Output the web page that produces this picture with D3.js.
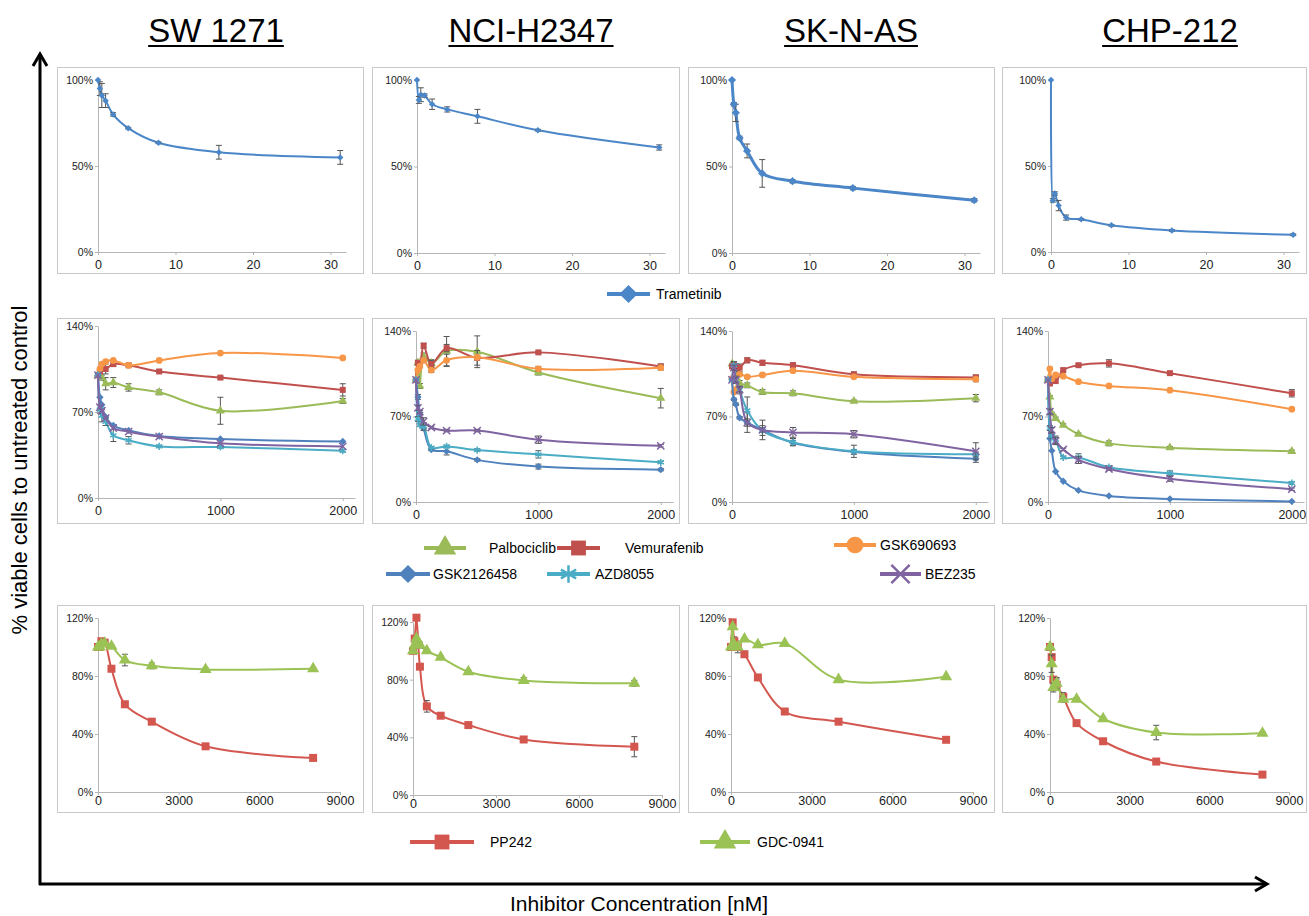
<!DOCTYPE html>
<html>
<head>
<meta charset="utf-8">
<script src="https://cdnjs.cloudflare.com/ajax/libs/d3/7.8.5/d3.min.js"></script>
<style>
  body { margin: 0; background: #fff; }
  svg { display: block; font-family: "Liberation Sans", Arial, Helvetica, sans-serif; }
</style>
</head>
<body>
<div id="chart"></div>
<script>
// ---- data ----
var cellLines = ["SW 1271", "NCI-H2347", "SK-N-AS", "CHP-212"];

// concentrations (nM)
var tramConc = [0, 0.24, 0.49, 0.98, 1.95, 3.9, 7.8, 15.6, 31.25];
var kinConc  = [0, 15.6, 31.25, 62.5, 125, 250, 500, 1000, 2000];
var ppConc   = [0, 62.5, 125, 250, 500, 1000, 2000, 4000, 8000];

// row 1: Trametinib
var tramSW  = [100, 95, 91, 88, 80, 72, 63.5, 58, 55];
var tramSWe = [0, 4, 7, 4, 1, 0.5, 0.5, 4, 4];
var tramNCI  = [100, 88.5, 91.5, 91, 86, 83, 79, 71, 61];
var tramNCIe = [0, 2, 4, 1, 3, 1.5, 4, 0.5, 1.5];
var tramSK  = [100, 86, 81, 66.5, 59, 46, 41.5, 37.5, 30.5];
var tramSKe = [0, 1, 5, 1, 4, 8, 1, 1, 1];
var tramCHP  = [100, 30, 34, 27, 20, 19, 15.5, 12.5, 10];
var tramCHPe = [0, 1, 1, 3, 1.5, 0.5, 0.5, 0.5, 0.5];

// row 2: SW 1271
var palbSW  = [100, 101, 98, 93, 94, 90, 86, 71, 79];
var palbSWe = [0, 2, 2, 5, 4, 3, 2, 11, 2];
var vemuSW  = [100, 103, 105, 105, 109, 108, 103, 98, 88];
var vemuSWe = [0, 1, 1, 4, 2, 1, 1, 1, 5];
var g69SW   = [100, 105, 109, 111, 112, 108, 112, 118, 114];
var g21SW   = [100, 82, 76, 66, 59, 55, 50.5, 48, 46];
var azdSW   = [100, 72, 67, 62, 51, 47, 42, 41.5, 38.5];
var azdSWe  = [0, 3, 5, 3, 5, 3, 1, 1, 1];
var bezSW   = [100, 74, 71, 65, 57, 54, 50, 44.5, 42];

// row 2: NCI-H2347
var palbNCI  = [100, 114, 95, 119, 113.5, 123.5, 123, 106, 85];
var palbNCIe = [0, 2, 2, 3, 3, 12, 13, 2, 8];
var vemuNCI  = [100, 114, 113, 128, 113, 126, 118, 122.5, 111];
var vemuNCIe = [0, 1, 1, 2, 3, 3, 6, 1, 2];
var g69NCI   = [100, 108, 111, 116, 108, 116, 118.5, 109, 110];
var g69NCIe  = [0, 1, 1, 1, 2, 5, 1, 2, 2];
var g21NCI   = [100, 86, 73, 60.5, 43, 41.5, 34.5, 29, 26.5];
var g21NCIe  = [0, 2, 2, 2, 1, 3, 1, 2, 1];
var azdNCI   = [100, 68, 63, 62, 44.5, 45.5, 42.5, 39, 32.5];
var azdNCIe  = [0, 2, 1, 3, 1, 1, 1, 3, 1];
var bezNCI   = [100, 77, 74, 66, 61, 58.5, 58.5, 51, 46];
var bezNCIe  = [0, 2, 1, 3, 1, 1, 1, 3, 1];

// row 2: SK-N-AS
var palbSK  = [113, 112, 108, 97.5, 95.5, 90, 89, 82.5, 85];
var palbSKe = [0, 2, 2, 2, 2, 2, 2, 1, 3];
var vemuSK  = [111, 112, 110, 110, 116, 114, 112, 104.5, 102];
var vemuSKe = [0, 2, 3, 3, 2, 2, 2, 2, 2];
var g69SK   = [101, 90, 92, 104.5, 102.5, 104, 107.5, 102.5, 100.5];
var g69SKe  = [0, 1, 1, 1, 1, 1, 1, 1, 2];
var g21SK   = [100, 84, 80, 69, 65, 59, 48.5, 41, 35.5];
var g21SKe  = [0, 1, 1, 1, 8, 2, 2, 2, 3];
var azdSK   = [100, 112, 100, 91.5, 75, 58.5, 49, 41.5, 39];
var azdSKe  = [0, 3, 3, 3, 11, 4, 3, 5, 2];
var bezSK   = [100, 110, 100, 92, 65, 59, 57, 55.5, 41.5];
var bezSKe  = [0, 2, 2, 2, 3, 8, 4, 3, 7];

// row 2: CHP-212
var palbCHP  = [100, 86, 72.5, 68.5, 63, 55.5, 48, 44.5, 41.5];
var palbCHPe = [0, 1, 1, 1, 1, 1, 2, 1, 1];
var vemuCHP  = [100, 97, 101, 99, 108, 112, 113.5, 105.5, 89];
var vemuCHPe = [0, 1, 1, 1, 1, 1, 3, 1, 3];
var g69CHP   = [100, 109, 101, 104, 103, 98.5, 95, 91.5, 76];
var g21CHP   = [100, 52, 42, 25, 17, 9.5, 5, 2.5, 0.5];
var azdCHP   = [100, 60.5, 54, 51, 36.5, 36.5, 28.5, 23.5, 15.5];
var azdCHPe  = [0, 2, 2, 3, 1, 3, 1, 2, 1];
var bezCHP   = [100, 74, 59, 50, 43, 34.5, 27, 19, 10.5];
var bezCHPe  = [0, 2, 2, 3, 1, 3, 1, 2, 1];

// row 3: PP242 / GDC-0941
var ppSW   = [100, 100, 104, 103, 85, 60.5, 48.5, 31.5, 23.5];
var gdcSW  = [100, 100, 102, 102.5, 100.5, 91, 87, 84.5, 85];
var gdcSWe = [0, 1, 1, 1, 1, 4, 2, 1, 1];
var ppNCI   = [100, 108.5, 123, 89, 61.5, 55, 48.5, 38.5, 33.5];
var ppNCIe  = [0, 2, 2, 1, 4, 1, 1, 1, 7];
var gdcNCI  = [100, 104, 108.5, 104, 100, 95.5, 85.5, 79.5, 77.5];
var gdcNCIe = [0, 1, 1, 2, 1, 1, 1, 2, 2];
var ppSK   = [100, 117, 104, 100, 95, 79, 55.5, 48.5, 36];
var ppSKe  = [0, 2, 3, 4, 2, 1, 1, 1, 1];
var gdcSK  = [100, 114, 101.5, 100, 105.5, 101.5, 102.5, 77.5, 79.5];
var ppCHP   = [100, 93, 77.5, 74, 65.5, 47.5, 35, 21, 12];
var ppCHPe  = [0, 2, 2, 4, 3, 1, 1, 1, 1];
var gdcCHP  = [100, 88.5, 72, 75, 64, 64, 50.5, 41, 40.5];
var gdcCHPe = [0, 6, 3, 4, 2, 1, 1, 5, 1];

var row1Ticks = [0, 10, 20, 30],  row1YTicks = [0, 50, 100];
var row2Ticks = [0, 1000, 2000], row2YTicks = [0, 70, 140];
var row3Ticks = [0, 3000, 6000, 9000], row3YTicks = [0, 40, 80, 120];

// drug styles
var drugs = {
  "Trametinib":  {color: "#4a86c8", sym: "diamond"},
  "Palbociclib": {color: "#9bbb59", sym: "triangle"},
  "Vemurafenib": {color: "#c0504d", sym: "square"},
  "GSK690693":   {color: "#f79646", sym: "circle"},
  "GSK2126458":  {color: "#4f81bd", sym: "diamond"},
  "AZD8055":     {color: "#4bacc6", sym: "asterisk"},
  "BEZ235":      {color: "#8064a2", sym: "x"},
  "PP242":       {color: "#d4574f", sym: "square"},
  "GDC-0941":    {color: "#9bc255", sym: "triangle"}
};

// ---- layout ----
var W = 1309, H = 916;
var boxX = [[57, 363], [372, 679], [688, 994], [1002, 1306]];
var boxY = [[67, 273], [318, 523], [605, 812]];
var axisX = [[98, 417, 732, 1051], [98, 416, 732, 1048], [98, 413, 731, 1050]];
var plotW = [[248, 248, 248, 248], [257, 257, 256, 256], [242, 249, 242, 239]];
var plotTop = [[80, 80, 80, 80], [326, 331, 331, 331], [618, 622, 618, 618]];
var plotBot = [[252, 253, 253, 252], [498, 502, 502, 502], [792, 795, 792, 792]];
var xMax = [32, 2100, 9000];
var yMax = [100, 140, 120];

var svg = d3.select("#chart").append("svg")
    .attr("width", W).attr("height", H);

function symType(name) {
  return {diamond: d3.symbolSquare, square: d3.symbolSquare, triangle: d3.symbolTriangle,
          circle: d3.symbolCircle, asterisk: d3.symbolAsterisk, x: d3.symbolX}[name];
}
function isStroke(name) { return name == "asterisk" || name == "x"; }

function drawMarker(g, name, color, size, cx, cy, sw) {
  // excel diamonds are squares turned 45 degrees
  var rot = name == "diamond" ? " rotate(45)" : "";
  var sz = name == "diamond" ? size * 0.75 : size;
  var s = g.append("path")
    .attr("d", d3.symbol().type(symType(name)).size(sz)())
    .attr("transform", "translate(" + cx + "," + cy + ")" + rot);
  if (isStroke(name)) s.attr("fill", "none").attr("stroke", color).attr("stroke-width", sw || 1.5);
  else s.attr("fill", color);
}

function drawPanel(r, c, series, xs, xTicks, yTicks, opts) {
  var g = svg.append("g");
  g.append("rect")
    .attr("x", boxX[c][0] + 0.5).attr("y", boxY[r][0] + 0.5)
    .attr("width", boxX[c][1] - boxX[c][0]).attr("height", boxY[r][1] - boxY[r][0])
    .attr("fill", "#fff").attr("stroke", "#c9c9c9");

  var x = d3.scaleLinear().domain([0, xMax[r]]).range([axisX[r][c], axisX[r][c] + plotW[r][c]]);
  var y = d3.scaleLinear().domain([0, yMax[r]]).range([plotBot[r][c], plotTop[r][c]]);

  var xa = g.append("g").attr("transform", "translate(0," + plotBot[r][c] + ")")
    .call(d3.axisBottom(x).tickValues(xTicks).tickSize(3).tickSizeOuter(0).tickFormat(d3.format("d")));
  xa.selectAll("text").attr("font-size", 12.5).attr("fill", "#222").attr("dy", r == 2 ? "0.55em" : "0.9em")
    .attr("font-family", "Liberation Sans, Arial, sans-serif");
  var ya = g.append("g").attr("transform", "translate(" + axisX[r][c] + ",0)")
    .call(d3.axisLeft(y).tickValues(yTicks).tickSize(3).tickSizeOuter(0).tickFormat(function(d) { return d + "%"; }));
  ya.selectAll("text").attr("font-size", 10.5).attr("fill", "#222").attr("x", -5)
    .attr("font-family", "Liberation Sans, Arial, sans-serif");
  g.selectAll(".domain, .tick line").attr("stroke", "#b5b5b5");

  var line = d3.line()
    .x(function(d) { return x(d[0]); })
    .y(function(d) { return y(d[1]); })
    .curve(d3.curveCatmullRom.alpha(0.5));

  series.forEach(function(s) {
    var st = drugs[s.drug];
    var pts = xs.map(function(v, i) { return [v, s.vals[i], s.err ? s.err[i] : 0]; });
    g.append("path").datum(pts).attr("d", line)
      .attr("fill", "none").attr("stroke", st.color).attr("stroke-width", opts.lw);
    // error bars
    var eb = g.append("g").attr("stroke", "#555").attr("stroke-width", 1);
    pts.forEach(function(p) {
      if (!p[2]) return;
      var px = x(p[0]), y1 = y(p[1] - p[2]), y2 = y(p[1] + p[2]);
      eb.append("line").attr("x1", px).attr("x2", px).attr("y1", y1).attr("y2", y2);
      eb.append("line").attr("x1", px - 3).attr("x2", px + 3).attr("y1", y1).attr("y2", y1);
      eb.append("line").attr("x1", px - 3).attr("x2", px + 3).attr("y1", y2).attr("y2", y2);
    });
    pts.forEach(function(p) {
      drawMarker(g, st.sym, st.color, opts.ms, x(p[0]), y(p[1]));
    });
  });
}

// row 1
var tramSets = [[tramSW, tramSWe], [tramNCI, tramNCIe], [tramSK, tramSKe], [tramCHP, tramCHPe]];
tramSets.forEach(function(t, c) {
  drawPanel(0, c, [{drug: "Trametinib", vals: t[0], err: t[1]}], tramConc, row1Ticks, row1YTicks,
            {lw: c == 2 ? 3 : 2, ms: c == 2 ? 45 : 28});
});

// row 2
var kinSets = [
  [palbSW, palbSWe, vemuSW, vemuSWe, g69SW, null, g21SW, null, azdSW, azdSWe, bezSW, null],
  [palbNCI, palbNCIe, vemuNCI, vemuNCIe, g69NCI, g69NCIe, g21NCI, g21NCIe, azdNCI, azdNCIe, bezNCI, bezNCIe],
  [palbSK, palbSKe, vemuSK, vemuSKe, g69SK, g69SKe, g21SK, g21SKe, azdSK, azdSKe, bezSK, bezSKe],
  [palbCHP, palbCHPe, vemuCHP, vemuCHPe, g69CHP, null, g21CHP, null, azdCHP, azdCHPe, bezCHP, bezCHPe]
];
var kinDrugs = ["Palbociclib", "Vemurafenib", "GSK690693", "GSK2126458", "AZD8055", "BEZ235"];
kinSets.forEach(function(k, c) {
  var ser = kinDrugs.map(function(d, i) { return {drug: d, vals: k[2 * i], err: k[2 * i + 1]}; });
  drawPanel(1, c, ser, kinConc, row2Ticks, row2YTicks, {lw: 2, ms: 36});
});

// row 3
var ppSets = [[ppSW, null, gdcSW, gdcSWe], [ppNCI, ppNCIe, gdcNCI, gdcNCIe],
              [ppSK, ppSKe, gdcSK, null], [ppCHP, ppCHPe, gdcCHP, gdcCHPe]];
ppSets.forEach(function(p, c) {
  drawPanel(2, c, [{drug: "PP242", vals: p[0], err: p[1]}, {drug: "GDC-0941", vals: p[2], err: p[3]}],
            ppConc, row3Ticks, row3YTicks, {lw: 2, ms: 64});
});

// ---- titles ----
var titleX = [216, 531, 851, 1170];
cellLines.forEach(function(name, i) {
  var t = svg.append("text").attr("x", titleX[i]).attr("y", 42)
    .attr("text-anchor", "middle").attr("font-size", 33).attr("fill", "#000").text(name);
  var w = t.node().getComputedTextLength();
  svg.append("line").attr("x1", titleX[i] - w / 2).attr("x2", titleX[i] + w / 2)
    .attr("y1", 46).attr("y2", 46).attr("stroke", "#000").attr("stroke-width", 2);
});

// ---- legends ----
var legendItems = [
  {drug: "Trametinib",  x1: 607, x2: 650, y: 294, tx: 656},
  {drug: "Palbociclib", x1: 424, x2: 466, y: 548, tx: 489},
  {drug: "Vemurafenib", x1: 557, x2: 600, y: 548, tx: 625},
  {drug: "GSK690693",   x1: 834, x2: 876, y: 545, tx: 880},
  {drug: "GSK2126458",  x1: 386, x2: 430, y: 574, tx: 433},
  {drug: "AZD8055",     x1: 547, x2: 590, y: 574, tx: 595},
  {drug: "BEZ235",      x1: 880, x2: 921, y: 574, tx: 925},
  {drug: "PP242",       x1: 410, x2: 474, y: 842, tx: 490},
  {drug: "GDC-0941",    x1: 700, x2: 750, y: 842, tx: 757}
];
legendItems.forEach(function(l) {
  var st = drugs[l.drug];
  svg.append("line").attr("x1", l.x1).attr("x2", l.x2).attr("y1", l.y).attr("y2", l.y)
    .attr("stroke", st.color).attr("stroke-width", 4);
  drawMarker(svg, st.sym, st.color, 220, (l.x1 + l.x2) / 2, l.y, 2.5);
  svg.append("text").attr("x", l.tx).attr("y", l.y + 5).attr("font-size", 14).attr("fill", "#000").text(l.drug);
});

// ---- big axes arrows ----
svg.append("line").attr("x1", 40).attr("x2", 40).attr("y1", 885).attr("y2", 55)
  .attr("stroke", "#000").attr("stroke-width", 3);
svg.append("path").attr("d", "M33,66 L40,54 L47,66").attr("fill", "none")
  .attr("stroke", "#000").attr("stroke-width", 3);
svg.append("line").attr("x1", 39).attr("x2", 1266).attr("y1", 884).attr("y2", 884)
  .attr("stroke", "#000").attr("stroke-width", 3);
svg.append("path").attr("d", "M1255,877 L1267,884 L1255,891").attr("fill", "none")
  .attr("stroke", "#000").attr("stroke-width", 3);

svg.append("text").attr("transform", "translate(27,470) rotate(-90)")
  .attr("text-anchor", "middle").attr("font-size", 22).attr("fill", "#000")
  .text("% viable cells to untreated control");
svg.append("text").attr("x", 639).attr("y", 911)
  .attr("text-anchor", "middle").attr("font-size", 21).attr("fill", "#000")
  .text("Inhibitor Concentration [nM]");
</script>
</body>
</html>
